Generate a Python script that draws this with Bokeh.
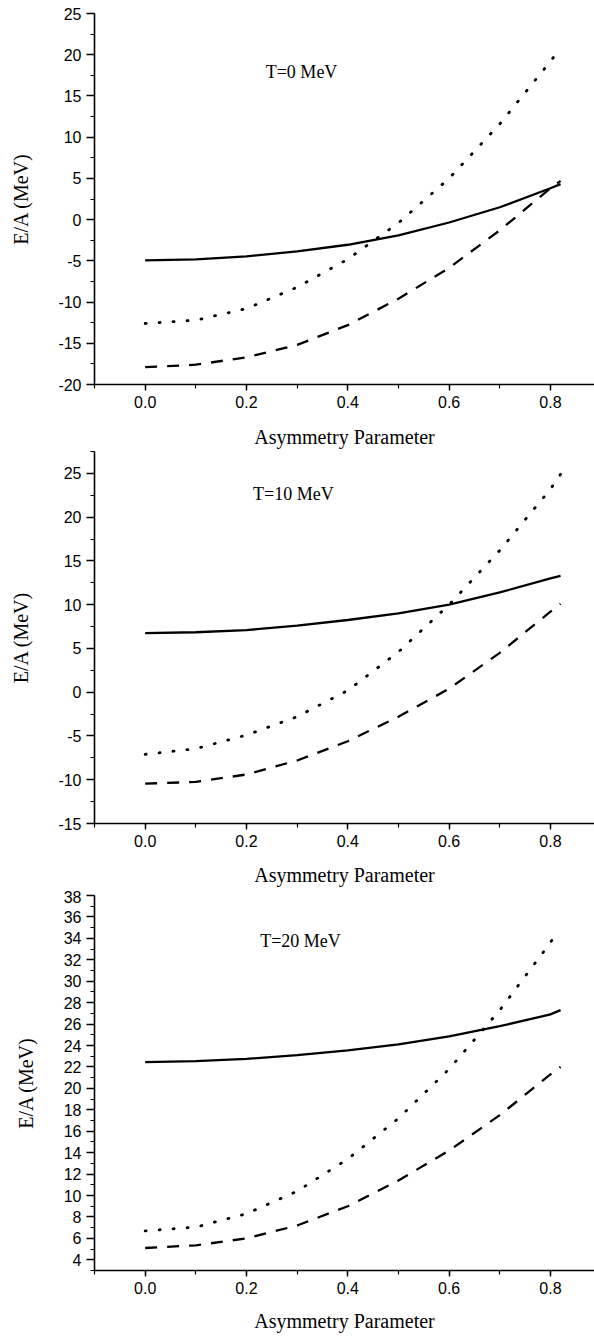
from bokeh.plotting import figure
from bokeh.layouts import column
from bokeh.models import Range1d, SingleIntervalTicker, NumeralTickFormatter, Label
from bokeh.embed import file_html
from bokeh.resources import INLINE

# ---------------- data ----------------
x_grid = [0.0, 0.1, 0.2, 0.3, 0.4, 0.5, 0.6, 0.7, 0.8]

# T = 0 MeV
t0_solid_x = x_grid + [0.82]
t0_solid_y = [-4.95, -4.82, -4.45, -3.85, -3.05, -1.9, -0.35, 1.5, 3.8, 4.3]
t0_dot_x = x_grid + [0.81]
t0_dot_y = [-12.6, -12.2, -10.8, -8.2, -4.8, -0.4, 5.0, 11.6, 19.2, 20.0]
t0_dash_x = x_grid + [0.82]
t0_dash_y = [-17.9, -17.6, -16.7, -15.2, -12.8, -9.6, -5.85, -1.3, 3.8, 4.7]

# T = 10 MeV
t10_solid_x = x_grid + [0.82]
t10_solid_y = [6.75, 6.85, 7.1, 7.6, 8.25, 9.0, 10.0, 11.4, 13.0, 13.3]
t10_dot_x = x_grid + [0.82]
t10_dot_y = [-7.1, -6.45, -4.9, -2.8, 0.2, 4.6, 10.0, 16.2, 23.2, 24.9]
t10_dash_x = x_grid + [0.82]
t10_dash_y = [-10.45, -10.25, -9.4, -7.8, -5.6, -2.8, 0.4, 4.5, 9.2, 10.1]

# T = 20 MeV
t20_solid_x = x_grid + [0.82]
t20_solid_y = [22.45, 22.55, 22.75, 23.1, 23.55, 24.1, 24.85, 25.8, 26.9, 27.3]
t20_dot_x = x_grid + [0.805]
t20_dot_y = [6.7, 7.05, 8.3, 10.4, 13.4, 17.2, 21.8, 27.3, 33.6, 34.0]
t20_dash_x = x_grid + [0.82]
t20_dash_y = [5.1, 5.35, 6.0, 7.2, 9.0, 11.4, 14.2, 17.5, 21.3, 22.0]

titles = ["T=0 MeV", "T=10 MeV", "T=20 MeV"]
title_pos = [(0.238, 17.9), (0.213, 22.6), (0.227, 33.8)]
x_label = "Asymmetry Parameter"
y_label = "E/A (MeV)"

SANS = "Liberation Sans"
SERIF = "Liberation Serif"


def make_panel(series, yr, y_int, title, tpos, height, b_left, b_top, b_bottom,
               x_end, xlab_standoff, ylab_standoff):
    p = figure(width=594, height=height, output_backend="svg",
               toolbar_location=None,
               x_range=Range1d(-0.1, x_end), y_range=Range1d(*yr),
               min_border_left=b_left, min_border_right=0,
               min_border_top=b_top, min_border_bottom=b_bottom)
    p.outline_line_color = None
    p.grid.visible = False
    p.background_fill_color = "white"
    p.border_fill_color = "white"

    (sx, sy), (dx, dy), (ax, ay) = series
    p.line(sx, sy, line_color="black", line_width=2.3)
    p.line(dx, dy, line_color="black", line_width=2.8, line_dash="1 13",
           line_cap="round")
    p.line(ax, ay, line_color="black", line_width=2.3, line_dash="12 10")

    xa = p.xaxis[0]
    xa.ticker = SingleIntervalTicker(interval=0.2, num_minor_ticks=2)
    xa.formatter = NumeralTickFormatter(format="0.0")
    xa.axis_label = x_label
    xa.axis_label_text_font = SERIF
    xa.axis_label_text_font_size = "20px"
    xa.axis_label_text_font_style = "normal"
    xa.axis_label_standoff = xlab_standoff
    xa.major_label_text_font = SANS
    xa.major_label_text_font_size = "16px"
    xa.major_label_standoff = 5
    xa.major_tick_out = 6
    xa.major_tick_in = 0
    xa.minor_tick_out = 4
    xa.minor_tick_in = 0
    xa.axis_line_width = 1.6
    xa.major_tick_line_width = 1.4
    xa.minor_tick_line_width = 1.2

    ya = p.yaxis[0]
    ya.ticker = SingleIntervalTicker(interval=y_int, num_minor_ticks=2)
    ya.formatter = NumeralTickFormatter(format="0")
    ya.axis_label = y_label
    ya.axis_label_text_font = SERIF
    ya.axis_label_text_font_size = "20px"
    ya.axis_label_text_font_style = "normal"
    ya.axis_label_standoff = ylab_standoff
    ya.major_label_text_font = SANS
    ya.major_label_text_font_size = "16px"
    ya.major_label_standoff = 5
    ya.major_tick_out = 8
    ya.major_tick_in = 0
    ya.minor_tick_out = 4
    ya.minor_tick_in = 0
    ya.axis_line_width = 1.6
    ya.major_tick_line_width = 1.4
    ya.minor_tick_line_width = 1.2

    for ax_ in (xa, ya):
        ax_.axis_line_color = "black"
        ax_.major_tick_line_color = "black"
        ax_.minor_tick_line_color = "black"
        ax_.major_label_text_color = "black"
        ax_.axis_label_text_color = "black"

    p.add_layout(Label(x=tpos[0], y=tpos[1], text=title, text_font=SERIF,
                       text_font_size="18px", text_baseline="middle",
                       text_align="left", text_color="black"))
    return p


p1 = make_panel([(t0_solid_x, t0_solid_y), (t0_dot_x, t0_dot_y), (t0_dash_x, t0_dash_y)],
                (-20, 25), 5, titles[0], title_pos[0],
                height=450, b_left=94, b_top=13, b_bottom=64, x_end=0.887,
                xlab_standoff=15, ylab_standoff=23)
p2 = make_panel([(t10_solid_x, t10_solid_y), (t10_dot_x, t10_dot_y), (t10_dash_x, t10_dash_y)],
                (-15, 27.5), 5, titles[1], title_pos[1],
                height=440, b_left=94, b_top=1, b_bottom=67, x_end=0.887,
                xlab_standoff=14, ylab_standoff=23)
p3 = make_panel([(t20_solid_x, t20_solid_y), (t20_dot_x, t20_dot_y), (t20_dash_x, t20_dash_y)],
                (3, 38), 2, titles[2], title_pos[2],
                height=446, b_left=89, b_top=5, b_bottom=66, x_end=0.887,
                xlab_standoff=13, ylab_standoff=24)

layout = column(p1, p2, p3, spacing=0)
open("out.html", "w").write(file_html(layout, INLINE))
